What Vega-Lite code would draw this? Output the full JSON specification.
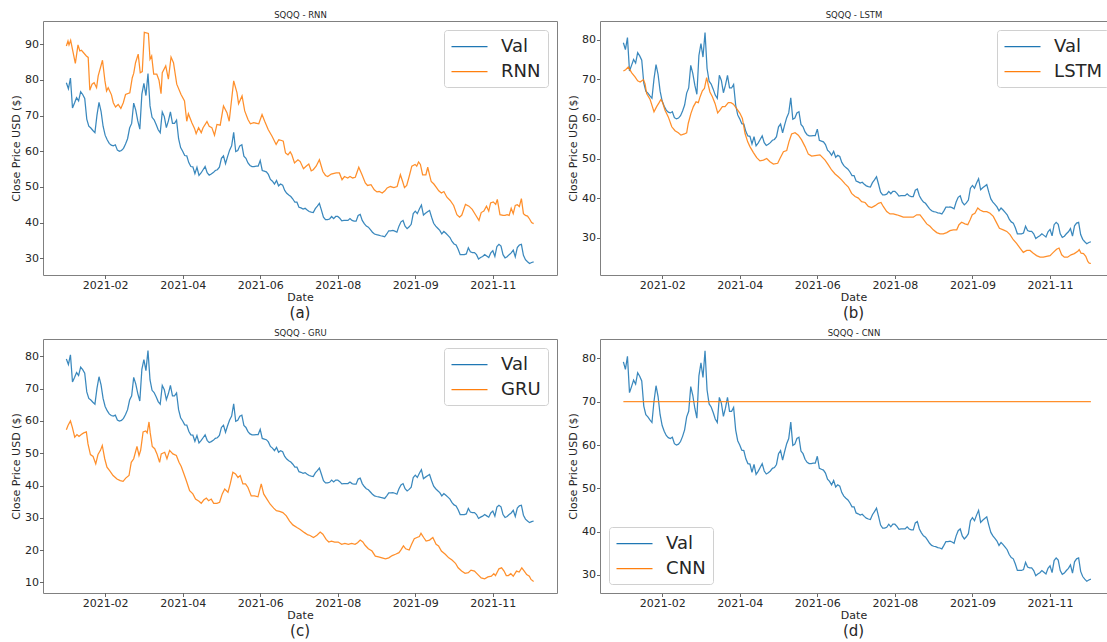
{
"$schema": "https://vega.github.io/schema/vega-lite/v6.json",
"background": "white",
"padding": {"left": 10, "top": 9, "right": 0, "bottom": 0},
"datasets": {
"val": [{"i":0,"v":79.2},{"i":1,"v":77.5},{"i":2,"v":80.5},{"i":3,"v":72.1},{"i":4,"v":73.5},{"i":5,"v":75.0},{"i":6,"v":74.1},{"i":7,"v":76.7},{"i":8,"v":75.9},{"i":9,"v":74.8},{"i":10,"v":69.0},{"i":11,"v":67.0},{"i":12,"v":66.5},{"i":13,"v":65.8},{"i":14,"v":65.2},{"i":15,"v":70.1},{"i":16,"v":73.7},{"i":17,"v":71.2},{"i":18,"v":67.0},{"i":19,"v":64.5},{"i":20,"v":63.2},{"i":21,"v":62.2},{"i":22,"v":61.7},{"i":23,"v":61.5},{"i":24,"v":61.8},{"i":25,"v":60.3},{"i":26,"v":60.0},{"i":27,"v":60.2},{"i":28,"v":60.8},{"i":29,"v":62.0},{"i":30,"v":63.5},{"i":31,"v":66.5},{"i":32,"v":67.8},{"i":33,"v":73.5},{"i":34,"v":71.5},{"i":35,"v":68.5},{"i":36,"v":66.2},{"i":37,"v":76.0},{"i":38,"v":79.0},{"i":39,"v":75.6},{"i":40,"v":81.8},{"i":41,"v":72.7},{"i":42,"v":69.5},{"i":43,"v":68.8},{"i":44,"v":67.5},{"i":45,"v":66.0},{"i":46,"v":65.2},{"i":47,"v":71.0},{"i":48,"v":69.7},{"i":49,"v":66.6},{"i":50,"v":68.5},{"i":51,"v":71.0},{"i":52,"v":67.8},{"i":53,"v":67.8},{"i":54,"v":68.7},{"i":55,"v":63.5},{"i":56,"v":61.0},{"i":57,"v":60.0},{"i":58,"v":58.8},{"i":59,"v":58.7},{"i":60,"v":56.8},{"i":61,"v":55.7},{"i":62,"v":55.6},{"i":63,"v":53.7},{"i":64,"v":55.5},{"i":65,"v":53.2},{"i":66,"v":53.9},{"i":67,"v":54.8},{"i":68,"v":55.7},{"i":69,"v":54.0},{"i":70,"v":53.3},{"i":71,"v":53.6},{"i":72,"v":54.0},{"i":73,"v":54.6},{"i":74,"v":54.8},{"i":75,"v":55.5},{"i":76,"v":58.0},{"i":77,"v":58.7},{"i":78,"v":56.5},{"i":79,"v":58.5},{"i":80,"v":60.3},{"i":81,"v":61.5},{"i":82,"v":65.3},{"i":83,"v":59.9},{"i":84,"v":60.2},{"i":85,"v":61.5},{"i":86,"v":61.8},{"i":87,"v":58.6},{"i":88,"v":58.0},{"i":89,"v":56.7},{"i":90,"v":56.0},{"i":91,"v":55.7},{"i":92,"v":55.7},{"i":93,"v":55.8},{"i":94,"v":55.8},{"i":95,"v":57.4},{"i":96,"v":54.6},{"i":97,"v":54.4},{"i":98,"v":54.2},{"i":99,"v":53.5},{"i":100,"v":52.1},{"i":101,"v":51.6},{"i":102,"v":50.8},{"i":103,"v":51.8},{"i":104,"v":50.3},{"i":105,"v":50.8},{"i":106,"v":50.5},{"i":107,"v":49.0},{"i":108,"v":48.2},{"i":109,"v":47.7},{"i":110,"v":47.3},{"i":111,"v":46.6},{"i":112,"v":45.7},{"i":113,"v":45.7},{"i":114,"v":44.3},{"i":115,"v":44.1},{"i":116,"v":43.8},{"i":117,"v":44.0},{"i":118,"v":43.5},{"i":119,"v":43.1},{"i":120,"v":42.9},{"i":121,"v":42.8},{"i":122,"v":43.9},{"i":123,"v":44.6},{"i":124,"v":45.4},{"i":125,"v":43.5},{"i":126,"v":41.5},{"i":127,"v":40.8},{"i":128,"v":40.8},{"i":129,"v":41.0},{"i":130,"v":41.7},{"i":131,"v":41.1},{"i":132,"v":41.7},{"i":133,"v":41.7},{"i":134,"v":41.2},{"i":135,"v":40.5},{"i":136,"v":40.6},{"i":137,"v":40.6},{"i":138,"v":40.6},{"i":139,"v":41.1},{"i":140,"v":40.6},{"i":141,"v":40.4},{"i":142,"v":40.4},{"i":143,"v":42.0},{"i":144,"v":42.3},{"i":145,"v":40.6},{"i":146,"v":39.7},{"i":147,"v":39.0},{"i":148,"v":38.7},{"i":149,"v":38.0},{"i":150,"v":37.3},{"i":151,"v":36.8},{"i":152,"v":36.6},{"i":153,"v":36.5},{"i":154,"v":36.3},{"i":155,"v":36.2},{"i":156,"v":36.0},{"i":157,"v":36.8},{"i":158,"v":37.7},{"i":159,"v":37.7},{"i":160,"v":37.8},{"i":161,"v":37.6},{"i":162,"v":37.3},{"i":163,"v":39.0},{"i":164,"v":40.2},{"i":165,"v":40.6},{"i":166,"v":39.0},{"i":167,"v":38.3},{"i":168,"v":38.8},{"i":169,"v":39.5},{"i":170,"v":42.5},{"i":171,"v":43.2},{"i":172,"v":42.5},{"i":173,"v":43.8},{"i":174,"v":44.9},{"i":175,"v":42.1},{"i":176,"v":42.6},{"i":177,"v":43.0},{"i":178,"v":43.4},{"i":179,"v":41.5},{"i":180,"v":39.8},{"i":181,"v":39.0},{"i":182,"v":38.4},{"i":183,"v":37.8},{"i":184,"v":36.8},{"i":185,"v":37.5},{"i":186,"v":37.0},{"i":187,"v":36.4},{"i":188,"v":35.8},{"i":189,"v":34.7},{"i":190,"v":34.0},{"i":191,"v":33.7},{"i":192,"v":32.5},{"i":193,"v":31.0},{"i":194,"v":31.0},{"i":195,"v":31.0},{"i":196,"v":31.2},{"i":197,"v":32.9},{"i":198,"v":31.8},{"i":199,"v":31.6},{"i":200,"v":31.6},{"i":201,"v":31.0},{"i":202,"v":29.8},{"i":203,"v":30.2},{"i":204,"v":30.5},{"i":205,"v":31.0},{"i":206,"v":30.6},{"i":207,"v":30.2},{"i":208,"v":31.5},{"i":209,"v":32.1},{"i":210,"v":30.5},{"i":211,"v":33.3},{"i":212,"v":33.9},{"i":213,"v":33.4},{"i":214,"v":31.0},{"i":215,"v":30.1},{"i":216,"v":30.4},{"i":217,"v":31.0},{"i":218,"v":31.5},{"i":219,"v":32.3},{"i":220,"v":30.4},{"i":221,"v":33.0},{"i":222,"v":33.7},{"i":223,"v":33.9},{"i":224,"v":30.8},{"i":225,"v":29.6},{"i":226,"v":29.0},{"i":227,"v":28.5},{"i":228,"v":28.8},{"i":229,"v":29.0}],
"rnn": [{"i":0,"v":89.5},{"i":0.8,"v":90.9},{"i":1.3,"v":89.8},{"i":2.1,"v":91.1},{"i":3.3,"v":87.7},{"i":4.4,"v":84.6},{"i":5.7,"v":89.8},{"i":6.6,"v":88.1},{"i":7.4,"v":88.3},{"i":9.8,"v":86.7},{"i":10.7,"v":86.3},{"i":11.5,"v":77.1},{"i":12.6,"v":78.8},{"i":13.6,"v":79.2},{"i":14.8,"v":77.8},{"i":15.6,"v":81.1},{"i":17.7,"v":85.5},{"i":18.9,"v":79.7},{"i":19.7,"v":76.9},{"i":20.5,"v":77.8},{"i":22.1,"v":75.8},{"i":23,"v":73.6},{"i":24.1,"v":72.4},{"i":25.4,"v":73.1},{"i":26.7,"v":72.0},{"i":27.9,"v":73.6},{"i":29,"v":75.9},{"i":31.1,"v":76.4},{"i":32.3,"v":80.6},{"i":33,"v":81.8},{"i":33.9,"v":84.8},{"i":35.2,"v":87.2},{"i":36.2,"v":82.0},{"i":37.2,"v":82.3},{"i":38.2,"v":93.3},{"i":40.2,"v":93.0},{"i":41,"v":85.8},{"i":41.8,"v":86.7},{"i":42.8,"v":81.6},{"i":44.3,"v":81.6},{"i":45.4,"v":79.9},{"i":46.4,"v":76.1},{"i":47,"v":82.0},{"i":48.7,"v":83.9},{"i":50,"v":80.2},{"i":51.3,"v":86.4},{"i":52.5,"v":84.8},{"i":54.1,"v":78.8},{"i":56.2,"v":75.9},{"i":57.9,"v":74.1},{"i":59,"v":68.4},{"i":59.8,"v":70.5},{"i":61.5,"v":68.0},{"i":62.8,"v":66.4},{"i":63.6,"v":64.9},{"i":64.8,"v":66.6},{"i":66.1,"v":65.2},{"i":67,"v":66.6},{"i":68.9,"v":68.3},{"i":70,"v":67.0},{"i":71.3,"v":66.6},{"i":72.6,"v":64.5},{"i":73.8,"v":67.5},{"i":75.4,"v":67.3},{"i":77,"v":72.7},{"i":78.7,"v":70.8},{"i":79.8,"v":68.4},{"i":82,"v":79.7},{"i":83.6,"v":76.4},{"i":84.4,"v":73.3},{"i":86.1,"v":75.5},{"i":87.4,"v":71.3},{"i":89,"v":68.9},{"i":90.2,"v":67.7},{"i":91.8,"v":68.0},{"i":94.3,"v":67.7},{"i":95.9,"v":70.3},{"i":97.2,"v":68.4},{"i":98.9,"v":66.1},{"i":100.8,"v":64.2},{"i":102.8,"v":61.9},{"i":104.1,"v":63.2},{"i":105.5,"v":63.0},{"i":106.3,"v":62.8},{"i":107.4,"v":59.5},{"i":108.6,"v":59.0},{"i":109.7,"v":59.8},{"i":110.5,"v":59.0},{"i":111.8,"v":56.7},{"i":113.5,"v":57.6},{"i":114.6,"v":57.1},{"i":116.2,"v":55.1},{"i":117.5,"v":55.8},{"i":118.8,"v":56.4},{"i":120,"v":54.5},{"i":121,"v":54.8},{"i":122.4,"v":55.8},{"i":124,"v":57.6},{"i":125.7,"v":54.3},{"i":127,"v":53.2},{"i":128.1,"v":52.9},{"i":129.8,"v":53.6},{"i":132.2,"v":53.9},{"i":133.8,"v":53.9},{"i":135.1,"v":52.0},{"i":136.3,"v":52.9},{"i":137.9,"v":52.5},{"i":139,"v":52.9},{"i":140.3,"v":52.5},{"i":141.6,"v":52.7},{"i":143.3,"v":55.5},{"i":144.9,"v":53.4},{"i":146.5,"v":51.1},{"i":147.6,"v":50.4},{"i":149.3,"v":50.6},{"i":150.9,"v":49.2},{"i":152.2,"v":48.6},{"i":153.3,"v":48.7},{"i":154.8,"v":48.3},{"i":156.1,"v":48.9},{"i":157.2,"v":49.7},{"i":158.8,"v":50.1},{"i":160.5,"v":49.8},{"i":162.1,"v":50.1},{"i":163.7,"v":53.4},{"i":164.8,"v":51.5},{"i":165.7,"v":49.8},{"i":166.8,"v":50.4},{"i":168,"v":52.9},{"i":169.3,"v":55.8},{"i":170.9,"v":56.3},{"i":171.7,"v":55.8},{"i":172.6,"v":57.0},{"i":173.5,"v":56.3},{"i":174.6,"v":53.4},{"i":176.2,"v":53.4},{"i":177.1,"v":55.5},{"i":177.9,"v":53.6},{"i":178.8,"v":51.5},{"i":180.1,"v":50.8},{"i":181.4,"v":49.8},{"i":182.5,"v":48.9},{"i":183.8,"v":48.3},{"i":185,"v":48.7},{"i":186.5,"v":47.1},{"i":188.1,"v":46.2},{"i":189.8,"v":44.8},{"i":191.4,"v":42.2},{"i":192.7,"v":41.5},{"i":193.8,"v":42.1},{"i":195.6,"v":45.1},{"i":197.3,"v":44.6},{"i":198.9,"v":43.7},{"i":200.5,"v":42.2},{"i":202.2,"v":40.6},{"i":203.3,"v":42.8},{"i":204.6,"v":43.2},{"i":205.9,"v":44.6},{"i":207,"v":43.2},{"i":207.9,"v":45.5},{"i":209.2,"v":45.8},{"i":210.4,"v":45.1},{"i":211.2,"v":46.5},{"i":212.5,"v":42.2},{"i":214,"v":42.0},{"i":215,"v":42.0},{"i":216,"v":42.2},{"i":217,"v":42.0},{"i":218,"v":44.0},{"i":219,"v":42.5},{"i":220,"v":44.8},{"i":221,"v":45.0},{"i":222,"v":44.5},{"i":223,"v":46.7},{"i":224,"v":42.5},{"i":225,"v":42.0},{"i":226,"v":41.8},{"i":227,"v":41.0},{"i":228,"v":40.0},{"i":229,"v":39.7}],
"lstm": [{"i":0,"v":72.1},{"i":1.1,"v":72.4},{"i":2.4,"v":73.1},{"i":3.3,"v":72.3},{"i":4.1,"v":71.6},{"i":5.7,"v":70.6},{"i":7,"v":69.6},{"i":8.2,"v":69.3},{"i":9.8,"v":69.9},{"i":10.6,"v":68.9},{"i":11.4,"v":66.4},{"i":13.1,"v":64.9},{"i":14.2,"v":63.1},{"i":15,"v":61.8},{"i":16.3,"v":63.1},{"i":17.5,"v":64.1},{"i":18.4,"v":64.9},{"i":19.1,"v":64.3},{"i":20.4,"v":62.2},{"i":22,"v":60.5},{"i":23.7,"v":58.0},{"i":25.3,"v":57.0},{"i":26.9,"v":56.5},{"i":28.2,"v":55.9},{"i":29.9,"v":56.2},{"i":31,"v":56.5},{"i":31.8,"v":58.9},{"i":33.1,"v":61.4},{"i":34.3,"v":63.1},{"i":35.6,"v":64.3},{"i":36.7,"v":64.1},{"i":37.6,"v":65.6},{"i":38.7,"v":67.1},{"i":39.7,"v":67.7},{"i":40.8,"v":70.4},{"i":41.6,"v":68.5},{"i":42.4,"v":66.8},{"i":43.6,"v":65.6},{"i":44.9,"v":63.9},{"i":46.2,"v":61.5},{"i":47.3,"v":62.2},{"i":48.5,"v":63.1},{"i":49.8,"v":63.1},{"i":51.4,"v":64.1},{"i":52.7,"v":64.1},{"i":53.9,"v":63.7},{"i":55.5,"v":62.6},{"i":57.1,"v":61.4},{"i":58.3,"v":60.1},{"i":59.6,"v":56.3},{"i":60.9,"v":54.2},{"i":62,"v":53.0},{"i":63.7,"v":51.5},{"i":65.3,"v":50.2},{"i":66.9,"v":49.4},{"i":68.6,"v":49.6},{"i":70.2,"v":50.0},{"i":71.8,"v":49.2},{"i":73.5,"v":48.6},{"i":75.6,"v":48.8},{"i":76.7,"v":50.0},{"i":78.4,"v":51.7},{"i":80,"v":52.0},{"i":81.1,"v":54.2},{"i":82.4,"v":56.2},{"i":84.1,"v":56.5},{"i":85.7,"v":55.9},{"i":87.3,"v":54.7},{"i":89,"v":53.0},{"i":90.6,"v":51.1},{"i":92.2,"v":50.6},{"i":94.7,"v":50.8},{"i":96.3,"v":50.9},{"i":98.8,"v":49.6},{"i":100.4,"v":48.4},{"i":102,"v":47.1},{"i":103.7,"v":46.1},{"i":105.3,"v":45.4},{"i":106.9,"v":44.6},{"i":108.6,"v":43.6},{"i":110.2,"v":42.8},{"i":111.8,"v":41.2},{"i":113.5,"v":40.4},{"i":115.1,"v":40.0},{"i":116.7,"v":39.1},{"i":118.4,"v":38.9},{"i":120,"v":37.9},{"i":121.6,"v":37.6},{"i":123.3,"v":38.1},{"i":124.9,"v":38.7},{"i":126.2,"v":38.9},{"i":127.3,"v":37.9},{"i":129,"v":36.6},{"i":130.6,"v":36.0},{"i":132.2,"v":36.0},{"i":133.9,"v":35.8},{"i":135.5,"v":35.5},{"i":137.1,"v":35.2},{"i":138.8,"v":35.2},{"i":140.4,"v":35.2},{"i":142,"v":35.2},{"i":143.7,"v":35.8},{"i":145.3,"v":35.8},{"i":146.9,"v":34.7},{"i":148.6,"v":33.5},{"i":150.2,"v":32.9},{"i":151.8,"v":32.0},{"i":153.5,"v":31.3},{"i":155.1,"v":31.0},{"i":156.7,"v":31.0},{"i":158.4,"v":31.3},{"i":160,"v":31.8},{"i":161.6,"v":32.0},{"i":163.3,"v":32.0},{"i":164.4,"v":33.3},{"i":165.7,"v":33.9},{"i":167.3,"v":33.5},{"i":168.7,"v":33.3},{"i":169.8,"v":34.5},{"i":170.9,"v":35.8},{"i":172.2,"v":36.2},{"i":173.6,"v":37.5},{"i":174.7,"v":37.0},{"i":176.3,"v":36.6},{"i":178,"v":36.6},{"i":179.6,"v":36.2},{"i":181.2,"v":35.4},{"i":182.9,"v":33.7},{"i":184.2,"v":32.4},{"i":186.1,"v":32.0},{"i":187.8,"v":31.6},{"i":189.4,"v":30.8},{"i":191,"v":29.5},{"i":192.7,"v":28.5},{"i":194.3,"v":27.4},{"i":195.9,"v":26.3},{"i":197.6,"v":26.8},{"i":199.2,"v":26.8},{"i":200.8,"v":26.1},{"i":202.4,"v":25.5},{"i":204.1,"v":25.1},{"i":205.7,"v":25.1},{"i":207.3,"v":25.3},{"i":209,"v":25.5},{"i":210.6,"v":26.3},{"i":212.2,"v":27.1},{"i":213.4,"v":27.4},{"i":214.7,"v":25.7},{"i":216,"v":25.1},{"i":217.6,"v":25.1},{"i":219.3,"v":25.7},{"i":220.9,"v":26.0},{"i":222.6,"v":26.6},{"i":223.3,"v":27.0},{"i":224.2,"v":26.1},{"i":225.4,"v":26.0},{"i":226.5,"v":25.3},{"i":227.5,"v":24.0},{"i":228.2,"v":23.6},{"i":229,"v":23.5}],
"gru": [{"i":0,"v":57.3},{"i":0.8,"v":58.6},{"i":2,"v":60.0},{"i":2.9,"v":58.1},{"i":4.1,"v":55.0},{"i":5.2,"v":55.8},{"i":6.2,"v":55.2},{"i":7.3,"v":55.8},{"i":8.5,"v":56.3},{"i":9.8,"v":56.6},{"i":10.6,"v":52.9},{"i":11.8,"v":49.6},{"i":13.1,"v":49.0},{"i":14.4,"v":46.7},{"i":15.5,"v":49.6},{"i":16.7,"v":50.9},{"i":17.6,"v":52.4},{"i":18.8,"v":48.3},{"i":19.9,"v":45.7},{"i":21.2,"v":44.6},{"i":22.9,"v":43.1},{"i":24.8,"v":42.0},{"i":26.4,"v":41.5},{"i":27.8,"v":41.3},{"i":29.1,"v":42.3},{"i":30.7,"v":43.1},{"i":31.8,"v":47.2},{"i":33,"v":48.3},{"i":34.6,"v":52.1},{"i":35.6,"v":49.3},{"i":36.4,"v":50.9},{"i":37.6,"v":56.6},{"i":38.9,"v":56.9},{"i":39.6,"v":56.3},{"i":40.5,"v":59.7},{"i":41.1,"v":56.3},{"i":42.1,"v":52.1},{"i":43.3,"v":51.4},{"i":44.4,"v":49.8},{"i":45.7,"v":47.2},{"i":46.5,"v":49.8},{"i":48.2,"v":50.3},{"i":49.3,"v":48.3},{"i":50.6,"v":50.9},{"i":52.2,"v":49.8},{"i":53.9,"v":49.3},{"i":55.2,"v":47.2},{"i":56.3,"v":45.9},{"i":57.5,"v":43.8},{"i":58.8,"v":41.5},{"i":60.4,"v":38.4},{"i":62,"v":37.4},{"i":63.3,"v":35.8},{"i":65,"v":35.1},{"i":66.1,"v":34.5},{"i":67.3,"v":35.5},{"i":68.6,"v":36.1},{"i":69.7,"v":35.3},{"i":71,"v":35.8},{"i":72.2,"v":34.5},{"i":73.8,"v":34.5},{"i":75.1,"v":34.8},{"i":76.4,"v":37.4},{"i":77.6,"v":38.9},{"i":79.2,"v":37.9},{"i":80.3,"v":40.5},{"i":81.6,"v":44.1},{"i":82.9,"v":43.6},{"i":84.1,"v":42.5},{"i":85.2,"v":43.1},{"i":86.5,"v":40.5},{"i":87.8,"v":40.5},{"i":89,"v":39.4},{"i":90.6,"v":36.8},{"i":92.2,"v":36.8},{"i":93.9,"v":36.5},{"i":95.5,"v":40.5},{"i":96.7,"v":37.4},{"i":98.3,"v":35.8},{"i":99.9,"v":34.2},{"i":101.6,"v":33.0},{"i":102.9,"v":32.2},{"i":104.5,"v":32.0},{"i":106.1,"v":31.6},{"i":107.8,"v":30.6},{"i":109.4,"v":29.0},{"i":111,"v":27.8},{"i":113,"v":27.0},{"i":114.6,"v":26.4},{"i":116.7,"v":25.4},{"i":118.4,"v":24.7},{"i":119.2,"v":24.6},{"i":121.1,"v":23.9},{"i":122.8,"v":24.6},{"i":124.4,"v":25.6},{"i":125.7,"v":24.9},{"i":127.3,"v":23.3},{"i":128.6,"v":22.5},{"i":129.9,"v":22.8},{"i":131.5,"v":22.5},{"i":133.2,"v":22.5},{"i":134.9,"v":21.8},{"i":136.5,"v":22.1},{"i":138.2,"v":21.8},{"i":139.8,"v":22.1},{"i":141.5,"v":21.8},{"i":142.7,"v":22.3},{"i":144,"v":23.1},{"i":145.3,"v":22.5},{"i":146.4,"v":21.5},{"i":148,"v":20.4},{"i":149.8,"v":19.7},{"i":151.4,"v":18.1},{"i":153,"v":17.9},{"i":154.7,"v":17.6},{"i":156.4,"v":17.3},{"i":158,"v":17.6},{"i":159.7,"v":18.3},{"i":161.3,"v":18.7},{"i":163,"v":19.2},{"i":163.9,"v":20.0},{"i":165.2,"v":21.3},{"i":166.3,"v":20.4},{"i":168,"v":20.0},{"i":169.2,"v":21.8},{"i":170.5,"v":23.5},{"i":171.8,"v":23.9},{"i":173,"v":24.2},{"i":173.8,"v":25.2},{"i":175.1,"v":23.9},{"i":176.3,"v":22.8},{"i":178,"v":23.1},{"i":179.6,"v":23.9},{"i":181.2,"v":21.8},{"i":182.4,"v":21.3},{"i":183.8,"v":19.7},{"i":185.7,"v":18.7},{"i":187.4,"v":17.6},{"i":189,"v":16.9},{"i":190.7,"v":15.9},{"i":192,"v":14.5},{"i":193.7,"v":13.5},{"i":195.4,"v":12.8},{"i":197,"v":13.0},{"i":198.3,"v":13.8},{"i":200,"v":13.5},{"i":201.7,"v":12.4},{"i":203.3,"v":11.4},{"i":205,"v":11.1},{"i":206.6,"v":11.7},{"i":208.3,"v":11.9},{"i":209.5,"v":12.7},{"i":210.3,"v":12.1},{"i":212,"v":14.2},{"i":213.3,"v":14.5},{"i":214.5,"v":13.5},{"i":215.6,"v":12.1},{"i":216.6,"v":12.1},{"i":217.8,"v":12.7},{"i":219,"v":11.9},{"i":220.6,"v":13.5},{"i":221.9,"v":13.2},{"i":223.2,"v":14.5},{"i":224.4,"v":13.5},{"i":225.6,"v":12.4},{"i":226.9,"v":11.9},{"i":227.7,"v":10.9},{"i":229,"v":10.3}],
"cnn": [{"i":0,"v":70.0},{"i":229,"v":70.0}]
},
"columns": 2,
"spacing": {"row": 64, "column": 43},
"bounds": "flush",
"resolve": {"scale": {"color": "independent"}},
"concat": [
{
"width": 514, "height": 254,
"title": {"text": "(a)", "orient": "bottom", "offset": 3},
"layer": [
{"data": {"name": "val"}, "mark": {"type": "line"},
"encoding": {
"x": {"field": "i", "type": "quantitative", "scale": {"domain": [-11.45, 240.45], "nice": false, "zero": false},
"axis": {"title": "Date", "values": [19,57,95,133,171,209], "labelExpr": "datum.value == 19 ? '2021-02' : datum.value == 57 ? '2021-04' : datum.value == 95 ? '2021-06' : datum.value == 133 ? '2021-08' : datum.value == 171 ? '2021-09' : '2021-11'"}},
"y": {"field": "v", "type": "quantitative", "scale": {"domain": [25.3, 96.5], "nice": false, "zero": false},
"axis": {"title": "Close Price USD ($)", "values": [30,40,50,60,70,80,90]}},
"color": {"datum": "Val", "type": "nominal", "scale": {"domain": ["Val","RNN"], "range": ["#1f77b4","#ff7f0e"]},
"legend": {"title": null, "orient": "top-right", "offset": 9}}
}},
{"data": {"name": "rnn"}, "mark": {"type": "line"},
"encoding": {
"x": {"field": "i", "type": "quantitative", "axis": {"orient": "top", "title": "SQQQ - RNN", "labels": false, "ticks": false, "domain": false, "titleFontSize": 8.5, "titlePadding": 2}},
"y": {"field": "v", "type": "quantitative"},
"color": {"datum": "RNN", "type": "nominal"}
}}
],
"resolve": {"axis": {"x": "independent"}}
},
{
"width": 507, "height": 254,
"view": {"stroke": null},
"title": {"text": "(b)", "orient": "bottom", "offset": 3},
"layer": [
{"data": {"name": "val"}, "mark": {"type": "line"},
"encoding": {
"x": {"field": "i", "type": "quantitative", "scale": {"domain": [-11.45, 236.9], "nice": false, "zero": false},
"axis": {"title": "Date", "domain": true, "values": [19,57,95,133,171,209], "labelExpr": "datum.value == 19 ? '2021-02' : datum.value == 57 ? '2021-04' : datum.value == 95 ? '2021-06' : datum.value == 133 ? '2021-08' : datum.value == 171 ? '2021-09' : '2021-11'"}},
"y": {"field": "v", "type": "quantitative", "scale": {"domain": [20.6, 84.7], "nice": false, "zero": false},
"axis": {"title": "Close Price USD ($)", "domain": true, "values": [30,40,50,60,70,80]}},
"color": {"datum": "Val", "type": "nominal", "scale": {"domain": ["Val","LSTM"], "range": ["#1f77b4","#ff7f0e"]},
"legend": {"title": null, "orient": "none", "legendX": 397, "legendY": 9}}
}},
{"data": {"name": "lstm"}, "mark": {"type": "line"},
"encoding": {
"x": {"field": "i", "type": "quantitative", "axis": {"orient": "top", "title": "SQQQ - LSTM", "labels": false, "ticks": false, "domain": true, "titleFontSize": 8.5, "titlePadding": 2}},
"y": {"field": "v", "type": "quantitative"},
"color": {"datum": "LSTM", "type": "nominal"}
}}
],
"resolve": {"axis": {"x": "independent"}}
},
{
"width": 514, "height": 254,
"title": {"text": "(c)", "orient": "bottom", "offset": 3},
"layer": [
{"data": {"name": "val"}, "mark": {"type": "line"},
"encoding": {
"x": {"field": "i", "type": "quantitative", "scale": {"domain": [-11.45, 240.45], "nice": false, "zero": false},
"axis": {"title": "Date", "values": [19,57,95,133,171,209], "labelExpr": "datum.value == 19 ? '2021-02' : datum.value == 57 ? '2021-04' : datum.value == 95 ? '2021-06' : datum.value == 133 ? '2021-08' : datum.value == 171 ? '2021-09' : '2021-11'"}},
"y": {"field": "v", "type": "quantitative", "scale": {"domain": [6.7, 85.4], "nice": false, "zero": false},
"axis": {"title": "Close Price USD ($)", "values": [10,20,30,40,50,60,70,80], "tickCount": 12}},
"color": {"datum": "Val", "type": "nominal", "scale": {"domain": ["Val","GRU"], "range": ["#1f77b4","#ff7f0e"]},
"legend": {"title": null, "orient": "top-right", "offset": 9}}
}},
{"data": {"name": "gru"}, "mark": {"type": "line"},
"encoding": {
"x": {"field": "i", "type": "quantitative", "axis": {"orient": "top", "title": "SQQQ - GRU", "labels": false, "ticks": false, "domain": false, "titleFontSize": 8.5, "titlePadding": 2}},
"y": {"field": "v", "type": "quantitative"},
"color": {"datum": "GRU", "type": "nominal"}
}}
],
"resolve": {"axis": {"x": "independent"}}
},
{
"width": 507, "height": 254,
"view": {"stroke": null},
"title": {"text": "(d)", "orient": "bottom", "offset": 3},
"layer": [
{"data": {"name": "val"}, "mark": {"type": "line"},
"encoding": {
"x": {"field": "i", "type": "quantitative", "scale": {"domain": [-11.45, 236.9], "nice": false, "zero": false},
"axis": {"title": "Date", "domain": true, "values": [19,57,95,133,171,209], "labelExpr": "datum.value == 19 ? '2021-02' : datum.value == 57 ? '2021-04' : datum.value == 95 ? '2021-06' : datum.value == 133 ? '2021-08' : datum.value == 171 ? '2021-09' : '2021-11'"}},
"y": {"field": "v", "type": "quantitative", "scale": {"domain": [25.8, 84.5], "nice": false, "zero": false},
"axis": {"title": "Close Price USD ($)", "domain": true, "values": [30,40,50,60,70,80]}},
"color": {"datum": "Val", "type": "nominal", "scale": {"domain": ["Val","CNN"], "range": ["#1f77b4","#ff7f0e"]},
"legend": {"title": null, "orient": "bottom-left", "offset": 9}}
}},
{"data": {"name": "cnn"}, "mark": {"type": "line"},
"encoding": {
"x": {"field": "i", "type": "quantitative", "axis": {"orient": "top", "title": "SQQQ - CNN", "labels": false, "ticks": false, "domain": true, "titleFontSize": 8.5, "titlePadding": 2}},
"y": {"field": "v", "type": "quantitative"},
"color": {"datum": "CNN", "type": "nominal"}
}}
],
"resolve": {"axis": {"x": "independent"}}
}
],
"config": {
"font": "DejaVu Sans",
"view": {"stroke": "#808080", "strokeWidth": 1},
"line": {"strokeWidth": 1.25, "opacity": 0.88},
"axis": {"grid": false, "domain": false, "domainColor": "#808080", "domainWidth": 1, "labelFontSize": 11, "titleFontSize": 11, "labelFont": "DejaVu Sans", "titleFont": "DejaVu Sans", "labelColor": "#262626", "titleColor": "#262626", "titleFontWeight": "normal", "tickColor": "#404040", "tickSize": 3.5, "tickWidth": 0.8, "labelPadding": 1, "titlePadding": 1, "labelOverlap": false, "tickCount": 12},
"axisY": {"titlePadding": 3},
"title": {"fontSize": 15, "fontWeight": "normal", "color": "#262626", "font": "DejaVu Sans"},
"legend": {"labelFontSize": 18, "labelFont": "DejaVu Sans", "labelColor": "#262626", "symbolType": "M-1,0H3", "symbolSize": 324, "symbolStrokeWidth": 1.5, "labelOffset": 30.6, "rowPadding": 6, "padding": 6.5, "fillColor": "rgba(255,255,255,0.8)", "strokeColor": "#d0d0d0", "cornerRadius": 3, "labelLimit": 0}
}
}
